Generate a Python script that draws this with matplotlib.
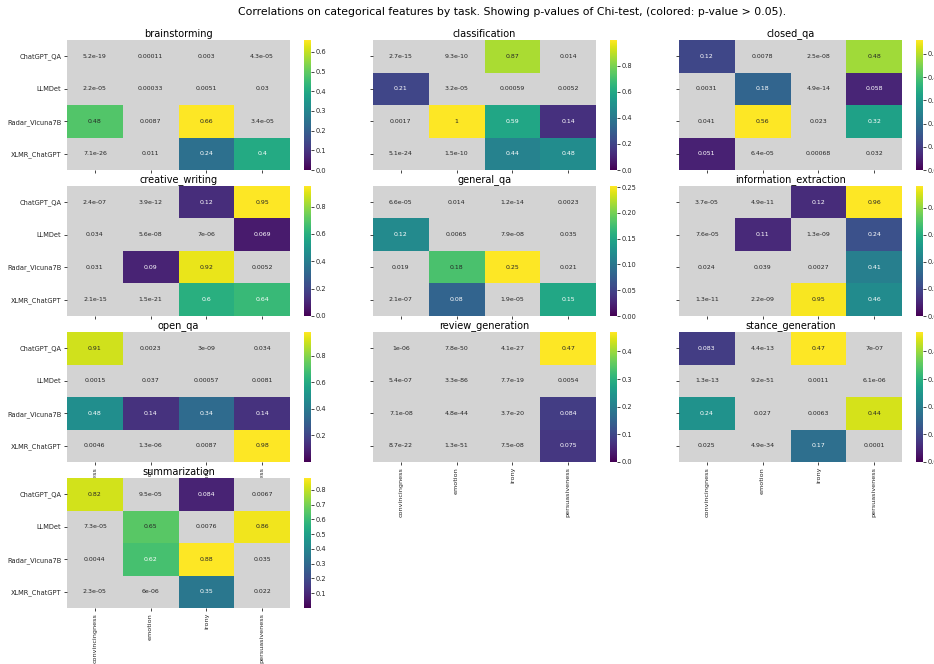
import numpy as np
import matplotlib
matplotlib.use("Agg")
import matplotlib.pyplot as plt
import matplotlib.colors as mcolors

DETECTORS = ["ChatGPT_QA", "LLMDet", "Radar_Vicuna7B", "XLMR_ChatGPT"]
FEATURES = ["convincingness", "emotion", "irony", "persuasiveness"]
TASKS = ["brainstorming", "classification", "closed_qa", "creative_writing",
         "general_qa", "information_extraction", "open_qa", "review_generation",
         "stance_generation", "summarization"]

# p-values, rows = detectors, cols = features
brainstorming = [[5.2e-19, 0.00011, 0.003, 4.3e-05],
                 [2.2e-05, 0.00033, 0.0051, 0.03],
                 [0.48, 0.0087, 0.66, 3.4e-05],
                 [7.1e-26, 0.011, 0.24, 0.4]]
classification = [[2.7e-15, 9.3e-10, 0.87, 0.014],
                  [0.21, 3.2e-05, 0.00059, 0.0052],
                  [0.0017, 0.996, 0.59, 0.14],
                  [5.1e-24, 1.5e-10, 0.44, 0.48]]
closed_qa = [[0.12, 0.0078, 2.5e-08, 0.48],
             [0.0031, 0.18, 4.9e-14, 0.058],
             [0.041, 0.56, 0.023, 0.32],
             [0.051, 6.4e-05, 0.00068, 0.032]]
creative_writing = [[2.4e-07, 3.9e-12, 0.12, 0.95],
                    [0.034, 5.6e-08, 7e-06, 0.069],
                    [0.031, 0.09, 0.92, 0.0052],
                    [2.1e-15, 1.5e-21, 0.6, 0.64]]
general_qa = [[6.6e-05, 0.014, 1.2e-14, 0.0023],
              [0.12, 0.0065, 7.9e-08, 0.035],
              [0.019, 0.18, 0.252, 0.021],
              [2.1e-07, 0.08, 1.9e-05, 0.15]]
information_extraction = [[3.7e-05, 4.9e-11, 0.12, 0.96],
                          [7.6e-05, 0.11, 1.3e-09, 0.24],
                          [0.024, 0.039, 0.0027, 0.41],
                          [1.3e-11, 2.2e-09, 0.95, 0.46]]
open_qa = [[0.91, 0.0023, 3e-09, 0.034],
           [0.0015, 0.037, 0.00057, 0.0081],
           [0.48, 0.14, 0.34, 0.14],
           [0.0046, 1.3e-06, 0.0087, 0.98]]
review_generation = [[1e-06, 7.8e-50, 4.1e-27, 0.47],
                     [5.4e-07, 3.3e-86, 7.7e-19, 0.0054],
                     [7.1e-08, 4.8e-44, 3.7e-20, 0.084],
                     [8.7e-22, 1.3e-51, 7.5e-08, 0.075]]
stance_generation = [[0.083, 4.4e-13, 0.47, 7e-07],
                     [1.3e-13, 9.2e-51, 0.0011, 6.1e-06],
                     [0.24, 0.027, 0.0063, 0.44],
                     [0.025, 4.9e-34, 0.17, 0.0001]]
summarization = [[0.82, 9.5e-05, 0.084, 0.0067],
                 [7.3e-05, 0.65, 0.0076, 0.86],
                 [0.0044, 0.62, 0.88, 0.035],
                 [2.3e-05, 6e-06, 0.35, 0.022]]

PVALUES = [brainstorming, classification, closed_qa, creative_writing,
           general_qa, information_extraction, open_qa, review_generation,
           stance_generation, summarization]

ALPHA = 0.05

# layout in pixels
W, H = 934, 664
COL_LEFT = [67, 373, 679]
ROW_TOP = [40, 186, 332, 478]
AX_W, AX_H = 223, 130
CB_GAP, CB_W = 14, 7

TXT = "#262626"


def rect(x, y, w, h):
    return [x / W, 1 - (y + h) / H, w / W, h / H]


def text_color(rgba):
    # same idea as seaborn: dark text on light cells
    rgb = np.array(mcolors.to_rgb(rgba))
    rgb = np.where(rgb <= 0.03928, rgb / 12.92, ((rgb + 0.055) / 1.055) ** 2.4)
    lum = rgb.dot([0.2126, 0.7152, 0.0722])
    return TXT if lum > 0.408 else "white"


fig = plt.figure(figsize=(W / 100, H / 100), dpi=100)
fig.suptitle("Correlations on categorical features by task. Showing p-values of Chi-test, "
             "(colored: p-value > 0.05).", fontsize=7.8, x=0.548, y=1 - 12 / H,
             va="center")

cmap = plt.get_cmap("viridis")

for i, (task, vals) in enumerate(zip(TASKS, PVALUES)):
    r, c = divmod(i, 3)
    data = np.array(vals, dtype=float)
    masked = np.ma.masked_where(data <= ALPHA, data)
    norm = mcolors.Normalize(vmin=data.min(), vmax=data.max())

    ax = fig.add_axes(rect(COL_LEFT[c], ROW_TOP[r], AX_W, AX_H))
    ax.set_facecolor("lightgrey")
    mesh = ax.pcolormesh(masked, cmap=cmap, norm=norm)
    ax.set_xlim(0, 4)
    ax.set_ylim(4, 0)
    for s in ax.spines.values():
        s.set_visible(False)

    for yi in range(4):
        for xi in range(4):
            v = data[yi, xi]
            col = text_color(cmap(norm(v))) if v > ALPHA else TXT
            ax.text(xi + 0.5, yi + 0.5, f"{v:.2g}", ha="center", va="center",
                    fontsize=4.5, color=col)

    ax.set_title(task, fontsize=7.0, pad=2.5)
    ax.set_xticks(np.arange(4) + 0.5)
    ax.set_yticks(np.arange(4) + 0.5)
    ax.tick_params(length=2.5, width=0.6, color=TXT, labelsize=4.8,
                   labelcolor=TXT, pad=1.5)
    ax.tick_params(axis="x", labelsize=4.6, pad=1)
    if c == 0:
        ax.set_yticklabels(DETECTORS)
    else:
        ax.set_yticklabels([])
    # bottom-most axes of each column keep x labels (open_qa's get covered)
    if r >= 2:
        ax.set_xticklabels(FEATURES, rotation=90)
    else:
        ax.set_xticklabels([])

    cax = fig.add_axes(rect(COL_LEFT[c] + AX_W + CB_GAP, ROW_TOP[r], CB_W, AX_H))
    cb = fig.colorbar(mesh, cax=cax)
    cb.outline.set_visible(False)
    cax.tick_params(length=2, width=0.6, color=TXT, labelsize=4.8,
                    labelcolor=TXT, pad=1.5)

fig.savefig("out.png", dpi=100)
